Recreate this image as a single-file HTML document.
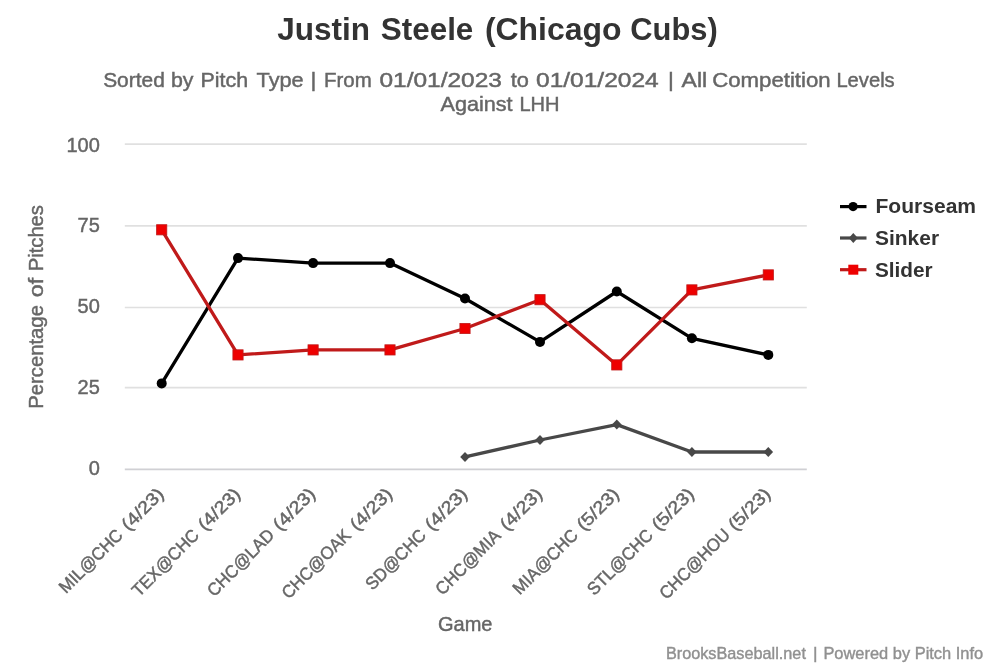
<!DOCTYPE html>
<html><head><meta charset="utf-8"><style>
html,body{margin:0;padding:0;background:#fff;width:1000px;height:667px;overflow:hidden}
svg{display:block;will-change:transform;font-family:"Liberation Sans", sans-serif}
text[fill="#666666"]{stroke:#666666;stroke-width:0.45px}
text[fill="#909090"]{stroke:#909090;stroke-width:0.4px}
</style></head><body>
<svg width="1000" height="667" viewBox="0 0 1000 667">
<rect width="1000" height="667" fill="#fff"/>
<path d="M 124.8 144.1 L 806.8 144.1" stroke="#E0E0E0" stroke-width="1.7" fill="none"/>
<path d="M 124.8 225.8 L 806.8 225.8" stroke="#E0E0E0" stroke-width="1.7" fill="none"/>
<path d="M 124.8 307.5 L 806.8 307.5" stroke="#E0E0E0" stroke-width="1.7" fill="none"/>
<path d="M 124.8 387.7 L 806.8 387.7" stroke="#E0E0E0" stroke-width="1.7" fill="none"/>
<path d="M 124.8 469.4 L 806.8 469.4" stroke="#D0D0D4" stroke-width="1.7" fill="none"/>
<text x="99.8" y="151.6" text-anchor="end" font-size="20" fill="#666666">100</text>
<text x="99.8" y="231.5" text-anchor="end" font-size="20" fill="#666666">75</text>
<text x="99.8" y="313.2" text-anchor="end" font-size="20" fill="#666666">50</text>
<text x="99.8" y="393.6" text-anchor="end" font-size="20" fill="#666666">25</text>
<text x="99.8" y="474.6" text-anchor="end" font-size="20" fill="#666666">0</text>
<text transform="translate(42.9,407.2) rotate(-90)" x="-1.62" y="0" font-size="20.3" fill="#666666" textLength="103.73" lengthAdjust="spacingAndGlyphs">Percentage</text>
<text transform="translate(42.9,407.2) rotate(-90)" x="110.03" y="0" font-size="20.3" fill="#666666" textLength="19.40" lengthAdjust="spacingAndGlyphs">of</text>
<text transform="translate(42.9,407.2) rotate(-90)" x="135.88" y="0" font-size="20.3" fill="#666666" textLength="66.31" lengthAdjust="spacingAndGlyphs">Pitches</text>
<text transform="translate(165.2,495) rotate(-45)" x="-51.78" y="0" font-size="17.6" fill="#666666" textLength="51.51" lengthAdjust="spacingAndGlyphs">(4/23)</text>
<text transform="translate(165.2,495) rotate(-45)" x="-140.27" y="0" font-size="17.6" fill="#666666" textLength="81.92" lengthAdjust="spacingAndGlyphs">MIL@CHC</text>
<text transform="translate(241.5,495) rotate(-45)" x="-51.78" y="0" font-size="17.6" fill="#666666" textLength="51.51" lengthAdjust="spacingAndGlyphs">(4/23)</text>
<text transform="translate(241.5,495) rotate(-45)" x="-145.00" y="0" font-size="17.6" fill="#666666" textLength="86.62" lengthAdjust="spacingAndGlyphs">TEX@CHC</text>
<text transform="translate(316.6,495) rotate(-45)" x="-51.78" y="0" font-size="17.6" fill="#666666" textLength="51.51" lengthAdjust="spacingAndGlyphs">(4/23)</text>
<text transform="translate(316.6,495) rotate(-45)" x="-144.83" y="0" font-size="17.6" fill="#666666" textLength="86.63" lengthAdjust="spacingAndGlyphs">CHC@LAD</text>
<text transform="translate(393.5,495) rotate(-45)" x="-51.78" y="0" font-size="17.6" fill="#666666" textLength="51.51" lengthAdjust="spacingAndGlyphs">(4/23)</text>
<text transform="translate(393.5,495) rotate(-45)" x="-148.21" y="0" font-size="17.6" fill="#666666" textLength="89.44" lengthAdjust="spacingAndGlyphs">CHC@OAK</text>
<text transform="translate(468.5,495) rotate(-45)" x="-51.78" y="0" font-size="17.6" fill="#666666" textLength="51.51" lengthAdjust="spacingAndGlyphs">(4/23)</text>
<text transform="translate(468.5,495) rotate(-45)" x="-135.62" y="0" font-size="17.6" fill="#666666" textLength="77.23" lengthAdjust="spacingAndGlyphs">SD@CHC</text>
<text transform="translate(543.5,495) rotate(-45)" x="-51.78" y="0" font-size="17.6" fill="#666666" textLength="51.51" lengthAdjust="spacingAndGlyphs">(4/23)</text>
<text transform="translate(543.5,495) rotate(-45)" x="-142.80" y="0" font-size="17.6" fill="#666666" textLength="83.80" lengthAdjust="spacingAndGlyphs">CHC@MIA</text>
<text transform="translate(620.3,495) rotate(-45)" x="-51.78" y="0" font-size="17.6" fill="#666666" textLength="51.51" lengthAdjust="spacingAndGlyphs">(5/23)</text>
<text transform="translate(620.3,495) rotate(-45)" x="-142.13" y="0" font-size="17.6" fill="#666666" textLength="83.80" lengthAdjust="spacingAndGlyphs">MIA@CHC</text>
<text transform="translate(695.4,495) rotate(-45)" x="-51.78" y="0" font-size="17.6" fill="#666666" textLength="51.51" lengthAdjust="spacingAndGlyphs">(5/23)</text>
<text transform="translate(695.4,495) rotate(-45)" x="-143.14" y="0" font-size="17.6" fill="#666666" textLength="84.75" lengthAdjust="spacingAndGlyphs">STL@CHC</text>
<text transform="translate(771.8,495) rotate(-45)" x="-51.78" y="0" font-size="17.6" fill="#666666" textLength="51.51" lengthAdjust="spacingAndGlyphs">(5/23)</text>
<text transform="translate(771.8,495) rotate(-45)" x="-148.97" y="0" font-size="17.6" fill="#666666" textLength="91.30" lengthAdjust="spacingAndGlyphs">CHC@HOU</text>
<path d="M 161.7 383.4 L 238.0 258.1 L 313.1 263.1 L 390.0 263.1 L 465.0 298.5 L 540.0 341.9 L 616.8 291.5 L 691.9 338.3 L 768.3 354.9" stroke="#000000" stroke-width="3.3" fill="none" stroke-linejoin="round"/>
<path d="M 465.0 456.9 L 540.0 440.0 L 616.8 424.6 L 691.9 452.0 L 768.3 452.0" stroke="#484848" stroke-width="3.3" fill="none" stroke-linejoin="round"/>
<path d="M 161.7 229.8 L 238.0 354.9 L 313.1 349.9 L 390.0 349.9 L 465.0 328.5 L 540.0 299.7 L 616.8 364.9 L 691.9 289.9 L 768.3 274.9" stroke="#C01A1A" stroke-width="3.3" fill="none" stroke-linejoin="round"/>
<circle cx="161.7" cy="383.4" r="5" fill="#000"/>
<circle cx="238.0" cy="258.1" r="5" fill="#000"/>
<circle cx="313.1" cy="263.1" r="5" fill="#000"/>
<circle cx="390.0" cy="263.1" r="5" fill="#000"/>
<circle cx="465.0" cy="298.5" r="5" fill="#000"/>
<circle cx="540.0" cy="341.9" r="5" fill="#000"/>
<circle cx="616.8" cy="291.5" r="5" fill="#000"/>
<circle cx="691.9" cy="338.3" r="5" fill="#000"/>
<circle cx="768.3" cy="354.9" r="5" fill="#000"/>
<path d="M 465.0 451.9 L 469.8 456.9 L 465.0 461.9 L 460.2 456.9 Z" fill="#484848"/>
<path d="M 540.0 435.0 L 544.8 440.0 L 540.0 445.0 L 535.2 440.0 Z" fill="#484848"/>
<path d="M 616.8 419.6 L 621.6 424.6 L 616.8 429.6 L 612.0 424.6 Z" fill="#484848"/>
<path d="M 691.9 447.0 L 696.7 452.0 L 691.9 457.0 L 687.1 452.0 Z" fill="#484848"/>
<path d="M 768.3 447.0 L 773.1 452.0 L 768.3 457.0 L 763.5 452.0 Z" fill="#484848"/>
<rect x="156.6" y="224.7" width="10.2" height="10.2" fill="#EE0000" stroke="#C01A1A" stroke-width="0.8"/>
<rect x="232.9" y="349.8" width="10.2" height="10.2" fill="#EE0000" stroke="#C01A1A" stroke-width="0.8"/>
<rect x="308.0" y="344.8" width="10.2" height="10.2" fill="#EE0000" stroke="#C01A1A" stroke-width="0.8"/>
<rect x="384.9" y="344.8" width="10.2" height="10.2" fill="#EE0000" stroke="#C01A1A" stroke-width="0.8"/>
<rect x="459.9" y="323.4" width="10.2" height="10.2" fill="#EE0000" stroke="#C01A1A" stroke-width="0.8"/>
<rect x="534.9" y="294.6" width="10.2" height="10.2" fill="#EE0000" stroke="#C01A1A" stroke-width="0.8"/>
<rect x="611.7" y="359.8" width="10.2" height="10.2" fill="#EE0000" stroke="#C01A1A" stroke-width="0.8"/>
<rect x="686.8" y="284.8" width="10.2" height="10.2" fill="#EE0000" stroke="#C01A1A" stroke-width="0.8"/>
<rect x="763.2" y="269.8" width="10.2" height="10.2" fill="#EE0000" stroke="#C01A1A" stroke-width="0.8"/>
<path d="M 840 206.6 L 866.5 206.6" stroke="#000" stroke-width="3.2"/>
<circle cx="853.1" cy="206.6" r="4.6" fill="#000"/>
<path d="M 840 238 L 866.5 238" stroke="#484848" stroke-width="3.2"/>
<path d="M 853.3 233 L 857.8 238 L 853.3 243 L 848.8 238 Z" fill="#484848"/>
<path d="M 840 269.7 L 866.5 269.7" stroke="#C01A1A" stroke-width="3.2"/>
<rect x="848.3" y="264.7" width="10" height="10" fill="#EE0000"/>
<text x="875.53" y="213.3" font-size="20.3" font-weight="bold" fill="#333" textLength="100.52" lengthAdjust="spacingAndGlyphs">Fourseam</text>
<text x="874.97" y="244.9" font-size="20.3" font-weight="bold" fill="#333" textLength="64.08" lengthAdjust="spacingAndGlyphs">Sinker</text>
<text x="874.98" y="277.1" font-size="20.3" font-weight="bold" fill="#333" textLength="57.71" lengthAdjust="spacingAndGlyphs">Slider</text>
<text x="277.33" y="39.6" font-size="31.5" font-weight="bold" fill="#333" textLength="92.76" lengthAdjust="spacingAndGlyphs">Justin</text>
<text x="380.76" y="39.6" font-size="31.5" font-weight="bold" fill="#333" textLength="92.59" lengthAdjust="spacingAndGlyphs">Steele</text>
<text x="484.90" y="39.6" font-size="31.5" font-weight="bold" fill="#333" textLength="136.67" lengthAdjust="spacingAndGlyphs">(Chicago</text>
<text x="630.27" y="39.6" font-size="31.5" font-weight="bold" fill="#333" textLength="87.42" lengthAdjust="spacingAndGlyphs">Cubs)</text>
<text x="103.16" y="86.6" font-size="20.5" fill="#666666" textLength="61.63" lengthAdjust="spacingAndGlyphs">Sorted</text>
<text x="170.91" y="86.6" font-size="20.5" fill="#666666" textLength="22.51" lengthAdjust="spacingAndGlyphs">by</text>
<text x="200.59" y="86.6" font-size="20.5" fill="#666666" textLength="47.57" lengthAdjust="spacingAndGlyphs">Pitch</text>
<text x="256.57" y="86.6" font-size="20.5" fill="#666666" textLength="47.08" lengthAdjust="spacingAndGlyphs">Type</text>
<text x="310.58" y="86.6" font-size="20.5" fill="#666666" textLength="5.84" lengthAdjust="spacingAndGlyphs">|</text>
<text x="323.96" y="86.6" font-size="20.5" fill="#666666" textLength="47.73" lengthAdjust="spacingAndGlyphs">From</text>
<text x="379.42" y="86.6" font-size="20.5" fill="#666666" textLength="122.56" lengthAdjust="spacingAndGlyphs">01/01/2023</text>
<text x="510.67" y="86.6" font-size="20.5" fill="#666666" textLength="18.18" lengthAdjust="spacingAndGlyphs">to</text>
<text x="536.02" y="86.6" font-size="20.5" fill="#666666" textLength="122.72" lengthAdjust="spacingAndGlyphs">01/01/2024</text>
<text x="668.08" y="86.6" font-size="20.5" fill="#666666" textLength="5.84" lengthAdjust="spacingAndGlyphs">|</text>
<text x="681.60" y="86.6" font-size="20.5" fill="#666666" textLength="25.53" lengthAdjust="spacingAndGlyphs">All</text>
<text x="712.19" y="86.6" font-size="20.5" fill="#666666" textLength="118.48" lengthAdjust="spacingAndGlyphs">Competition</text>
<text x="836.39" y="86.6" font-size="20.5" fill="#666666" textLength="58.33" lengthAdjust="spacingAndGlyphs">Levels</text>
<text x="440.50" y="111.4" font-size="20.3" fill="#666666" textLength="72.12" lengthAdjust="spacingAndGlyphs">Against</text>
<text x="519.40" y="111.4" font-size="20.3" fill="#666666" textLength="40.12" lengthAdjust="spacingAndGlyphs">LHH</text>
<text x="438.00" y="630.5" font-size="20.3" fill="#666666" textLength="54.46" lengthAdjust="spacingAndGlyphs">Game</text>
<text x="665.90" y="658.7" font-size="16.6" fill="#909090" textLength="140.01" lengthAdjust="spacingAndGlyphs">BrooksBaseball.net</text>
<text x="813.03" y="658.7" font-size="16.6" fill="#909090" textLength="4.55" lengthAdjust="spacingAndGlyphs">|</text>
<text x="823.39" y="658.7" font-size="16.6" fill="#909090" textLength="159.82" lengthAdjust="spacingAndGlyphs">Powered by Pitch Info</text>
</svg>
</body></html>
